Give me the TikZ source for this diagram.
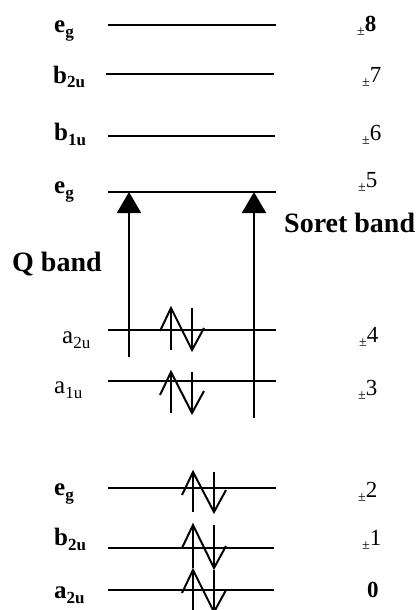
\documentclass[tikz,border=0pt]{standalone}
\usepackage{fontspec}
\setmainfont{Liberation Serif}
\usetikzlibrary{arrows.meta}
\newcommand{\orb}[2]{#1\raisebox{-5pt}{\fontsize{17}{17}\selectfont #2}}
\newcommand{\pmn}[1]{\raisebox{-4pt}{\fontsize{14}{14}\selectfont\mdseries ±}#1}
\newcommand{\epair}[3]{%
  \draw[spin] (#1,#3) -- (#1,#2);
  \draw[spin] (#1-11,#2+23) -- (#1,#2) -- (#1+21,#3) -- (#1+33,#3-22);
  \draw[spin] (#1+21,#2) -- (#1+21,#3);}
\begin{document}
\begin{tikzpicture}[x=1pt,y=-1pt,
  level/.style={line width=2.2pt},
  spin/.style={line width=2pt},
  trans/.style={line width=2pt,-{Triangle[length=21pt,width=24pt]}},
  lab/.style={anchor=base west,inner sep=0pt,font=\fontsize{25}{25}\selectfont\bfseries},
  labr/.style={anchor=base west,inner sep=0pt,font=\fontsize{25}{25}\selectfont},
  num/.style={anchor=base west,inner sep=0pt,font=\fontsize{23}{23}\selectfont},
  band/.style={anchor=base west,inner sep=0pt,font=\fontsize{28}{28}\selectfont\bfseries}]
\path[use as bounding box,fill=white] (0,0) rectangle (420,610);
% levels
\draw[level] (108,25) -- (276,25);
\draw[level] (106,74) -- (274,74);
\draw[level] (108,136) -- (275,136);
\draw[level] (108,192) -- (276,192);
\draw[level] (108,330) -- (276,330);
\draw[level] (108,381) -- (276,381);
\draw[level] (108,488) -- (276,488);
\draw[level] (108,548) -- (274,548);
\draw[level] (108,590) -- (274,590);
% left labels
\node[lab] (l8) at (54,33) {\orb{e}{g}};
\node[lab] (l7) at (53,83) {\orb{b}{2u}};
\node[lab] (l6) at (54,140) {\orb{b}{1u}};
\node[lab] (l5) at (54,193) {\orb{e}{g}};
\node[labr] (l4) at (62,343) {\orb{a}{2u}};
\node[labr] (l3) at (54,393) {\orb{a}{1u}};
\node[lab] (l2) at (54,495) {\orb{e}{g}};
\node[lab] (l1) at (54,545) {\orb{b}{2u}};
\node[lab] (l0) at (54,598) {\orb{a}{2u}};
% right labels
\node[num] (r8) at (357,32) {\pmn{\textbf{8}}};
\node[num] (r7) at (362,82) {\pmn{7}};
\node[num] (r6) at (362,140) {\pmn{6}};
\node[num] (r5) at (358,187) {\pmn{5}};
\node[num] (r4) at (359,342) {\pmn{4}};
\node[num] (r3) at (358,395) {\pmn{3}};
\node[num] (r2) at (358,497) {\pmn{2}};
\node[num] (r1) at (362,545) {\pmn{1}};
\node[num] (r0) at (367,597) {\textbf{0}};
% bands
\node[band] (qb) at (12,271) {Q band};
\node[band] (sb) at (284,232) {Soret band};
% transitions
\coordinate (qs) at (129,357);
\coordinate (qt) at (129,192);
\coordinate (ss) at (254,418);
\coordinate (st) at (254,192);
\draw[trans] (qs) -- (qt);
\draw[trans] (ss) -- (st);
% electron pairs
\epair{171}{308}{350}
\epair{171}{372}{413}
\epair{193}{472}{512}
\epair{193}{525}{568}
\epair{193}{570}{612}
\end{tikzpicture}
\end{document}
